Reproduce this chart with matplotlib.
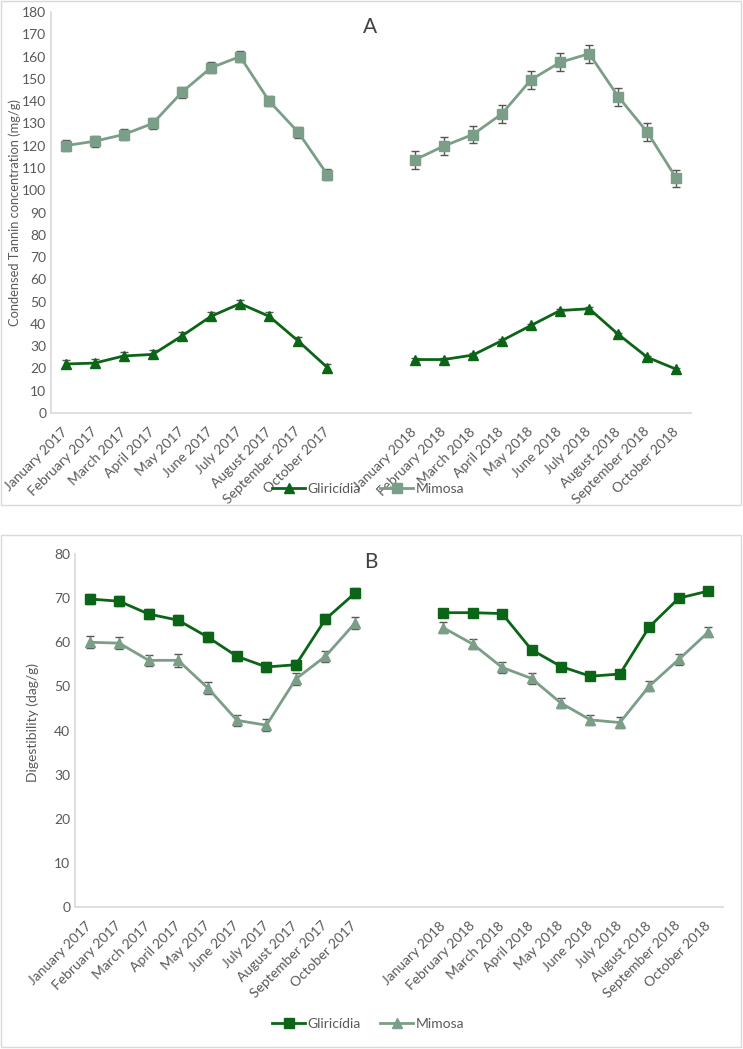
import numpy as np
import matplotlib.pyplot as plt
from matplotlib.patches import Rectangle
from matplotlib.lines import Line2D

plt.rcParams['font.family'] = ['Lato', 'DejaVu Sans']

# ─── Datos ────────────────────────────────────────────────────────────────────
months = ['January', 'February', 'March', 'April', 'May', 'June', 'July',
          'August', 'September', 'October']
labels = [f'{m} 2017' for m in months] + ['', ''] + [f'{m} 2018' for m in months]
nan = np.nan

# Panel A: taninos condensados (mg/g)
tan_glir = [22, 22.4, 25.6, 26.3, 34.6, 43.4, 49.1, 43.4, 32.3, 20.4,
            nan, nan,
            24, 24, 26, 32.5, 39.3, 46, 46.8, 35.3, 25, 19.6]
tan_glir_err = [1.8, 1.8, 1.8, 1.8, 1.8, 1.8, 1.8, 1.8, 1.6, 1.5,
                nan, nan,
                0.8, 0.8, 0.8, 0.8, 0.8, 0.8, 0.8, 0.8, 0.8, 0.8]
tan_mim = [120, 122, 125, 130, 144, 155, 160, 140, 126, 107,
           nan, nan,
           113.6, 119.8, 125, 134.3, 149.6, 157.4, 161.3, 142, 126, 105.3]
tan_mim_err = [2.4, 2.4, 2.4, 2.4, 2.4, 2.4, 2.4, 2.4, 2.4, 2.4,
               nan, nan,
               4, 4, 4, 4, 4, 4, 4, 4, 4, 4]

# Panel B: digestibilidad (dag/g)
dig_glir = [69.8, 69.3, 66.4, 65.0, 61.2, 56.8, 54.4, 54.9, 65.2, 71.1,
            nan, nan,
            66.7, 66.7, 66.5, 58.3, 54.5, 52.3, 52.8, 63.5, 70.0, 71.6]
dig_glir_err = [1.1, 1.1, 1.1, 1.1, 1.1, 1.1, 1.1, 1.1, 1.1, 1.1,
                nan, nan,
                0.3, 0.3, 0.3, 0.3, 0.3, 0.3, 0.3, 0.3, 0.3, 0.3]
dig_mim = [60.0, 59.8, 55.9, 55.9, 49.7, 42.3, 41.2, 51.7, 56.8, 64.3,
           nan, nan,
           63.3, 59.6, 54.3, 51.8, 46.2, 42.4, 41.8, 50.1, 56.1, 62.3]
dig_mim_err = [1.4, 1.4, 1.3, 1.4, 1.4, 1.3, 1.3, 1.4, 1.3, 1.4,
               nan, nan,
               1.2, 1.2, 1.2, 1.2, 1.2, 1.2, 1.2, 1.2, 1.2, 1.2]

# ─── Estilo ───────────────────────────────────────────────────────────────────
W, H = 743, 1049
dark = '#0b6516'
light = '#7a9e87'
grid_c = '#d9d9d9'
txt_c = '#595959'
x = np.arange(len(labels))


def fx(px):
    return px / W


def fy(py):
    return 1 - py / H


fig = plt.figure(figsize=(W / 100, H / 100), dpi=100)

# Marcos de los paneles
for top, bot in [(1, 505), (535, 1047)]:
    fig.patches.append(Rectangle((fx(0.5), fy(bot)), fx(740), (bot - top) / H,
                                 transform=fig.transFigure, fill=False,
                                 edgecolor=grid_c, lw=1))


def style(ax, ymax, step):
    ax.set_xlim(-0.5, 21.5)
    ax.set_ylim(0, ymax)
    ax.set_yticks(np.arange(0, ymax + 1, step))
    ax.set_xticks(x)
    ax.set_xticklabels(labels, rotation=45, ha='right', va='center',
                       rotation_mode='anchor')
    ax.tick_params(length=0, colors=txt_c, labelsize=10)
    ax.tick_params(axis='x', pad=12)
    for s in ['top', 'right']:
        ax.spines[s].set_visible(False)
    for s in ['left', 'bottom']:
        ax.spines[s].set_color(grid_c)
        ax.spines[s].set_linewidth(1.2)


def add_legend(ax, y_px, glir_marker, mim_marker):
    hs = [Line2D([], [], color=dark, lw=2, marker=glir_marker, ms=7),
          Line2D([], [], color=light, lw=2, marker=mim_marker, ms=7)]
    ax.legend(hs, ['Gliricídia', 'Mimosa'], loc='center', ncol=2, frameon=False,
              bbox_to_anchor=(fx(368), fy(y_px)), bbox_transform=fig.transFigure,
              fontsize=10, labelcolor=txt_c, handlelength=2.4, columnspacing=1.4,
              handletextpad=0.15)


eb = dict(ecolor='#555555', elinewidth=1, capsize=3, capthick=1)

# ─── Panel A ──────────────────────────────────────────────────────────────────
axA = fig.add_axes([fx(51), fy(413), fx(640), 401 / H])
axA.errorbar(x, tan_mim, yerr=tan_mim_err, color=light, lw=2, marker='s',
             ms=7, **eb)
axA.errorbar(x, tan_glir, yerr=tan_glir_err, color=dark, lw=2, marker='^',
             ms=7.5, **eb)
style(axA, 180, 10)
fig.text(fx(370), fy(27), 'A', fontsize=15, color='#404040', ha='center', va='center')
fig.text(fx(15), fy(213), 'Condensed Tannin concentration (mg/g)', rotation=90,
         fontsize=9.3, color=txt_c, ha='center', va='center')
add_legend(axA, 489, '^', 's')

# ─── Panel B ──────────────────────────────────────────────────────────────────
axB = fig.add_axes([fx(75), fy(907), fx(648), 353 / H])
axB.errorbar(x, dig_mim, yerr=dig_mim_err, color=light, lw=2, marker='^',
             ms=7.5, **eb)
axB.errorbar(x, dig_glir, yerr=dig_glir_err, color=dark, lw=2, marker='s',
             ms=7, **eb)
style(axB, 80, 10)
fig.text(fx(371), fy(562), 'B', fontsize=15, color='#404040', ha='center', va='center')
fig.text(fx(33), fy(722), 'Digestibility (dag/g)', rotation=90,
         fontsize=10, color=txt_c, ha='center', va='center')
add_legend(axB, 1024, 's', '^')

fig.savefig('out.png', dpi=100)
